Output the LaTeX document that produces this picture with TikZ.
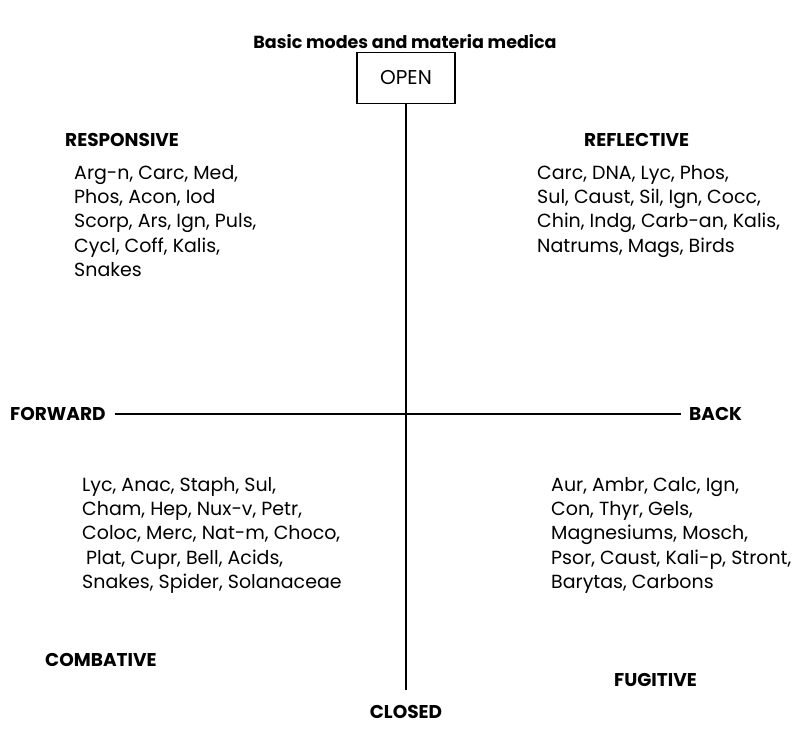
\documentclass[tikz,border=0pt]{standalone}
\usepackage{fontspec}
\setmainfont{Poppins}
\usetikzlibrary{positioning}

\begin{document}
\begin{tikzpicture}[
    x=1pt, y=-1pt,
    every node/.style={font=\fontsize{19}{24.3}\selectfont, inner sep=0pt},
    mode/.style={font=\fontsize{18.5}{20}\selectfont\bfseries},
    modebox/.style={draw, line width=1.1pt, minimum width=98pt, minimum height=51pt, font=\fontsize{20}{22}\selectfont},
    remedies/.style={anchor=north west, align=left},
    axis/.style={line width=1.2pt}
]
\useasboundingbox (0,0) rectangle (794,740);

%% Title
\node[font=\fontsize{17.5}{19}\selectfont\bfseries] (title) at (405,42) {Basic modes and materia medica};

%% Axis ends
\node[modebox] (open) at (406,78) {OPEN};
\node[mode] (closed) at (406,712) {CLOSED};
\node[mode, anchor=west] (forward) at (10,414) {FORWARD};
\node[mode, anchor=west] (back) at (689,414) {BACK};

%% Axes
\draw[axis] (open.south) -- ([shift={(0,-15)}]closed.north);
\draw[axis, shorten <=9pt, shorten >=8pt] (forward.east) -- (back.west);

%% Quadrant modes
\node[mode, anchor=west] (responsive) at (65,140) {RESPONSIVE};
\node[mode, anchor=west] (reflective) at (584,140) {REFLECTIVE};
\node[mode, anchor=west] (combative) at (45,660) {COMBATIVE};
\node[mode, anchor=west] (fugitive) at (614,680) {FUGITIVE};

%% Remedies
\node[remedies] (resp list) at (74,165) {
    Arg-n, Carc, Med,\\
    Phos, Acon, Iod\\
    Scorp, Ars, Ign, Puls,\\
    Cycl, Coff, Kalis,\\
    Snakes
};
\node[remedies] (refl list) at (537,165) {
    Carc, DNA, Lyc, Phos,\\
    Sul, Caust, Sil, Ign, Cocc,\\
    Chin, Indg, Carb-an, Kalis,\\
    Natrums, Mags, Birds
};
\node[remedies] (comb list) at (82,477) {
    Lyc, Anac, Staph, Sul,\\
    Cham, Hep, Nux-v, Petr,\\
    Coloc, Merc, Nat-m, Choco,\\
    \hspace{4pt}Plat, Cupr, Bell, Acids,\\
    Snakes, Spider, Solanaceae
};
\node[remedies] (fug list) at (551,477) {
    Aur, Ambr, Calc, Ign,\\
    Con, Thyr, Gels,\\
    Magnesiums, Mosch,\\
    Psor, Caust, Kali-p, Stront,\\
    Barytas, Carbons
};
\end{tikzpicture}
\end{document}
